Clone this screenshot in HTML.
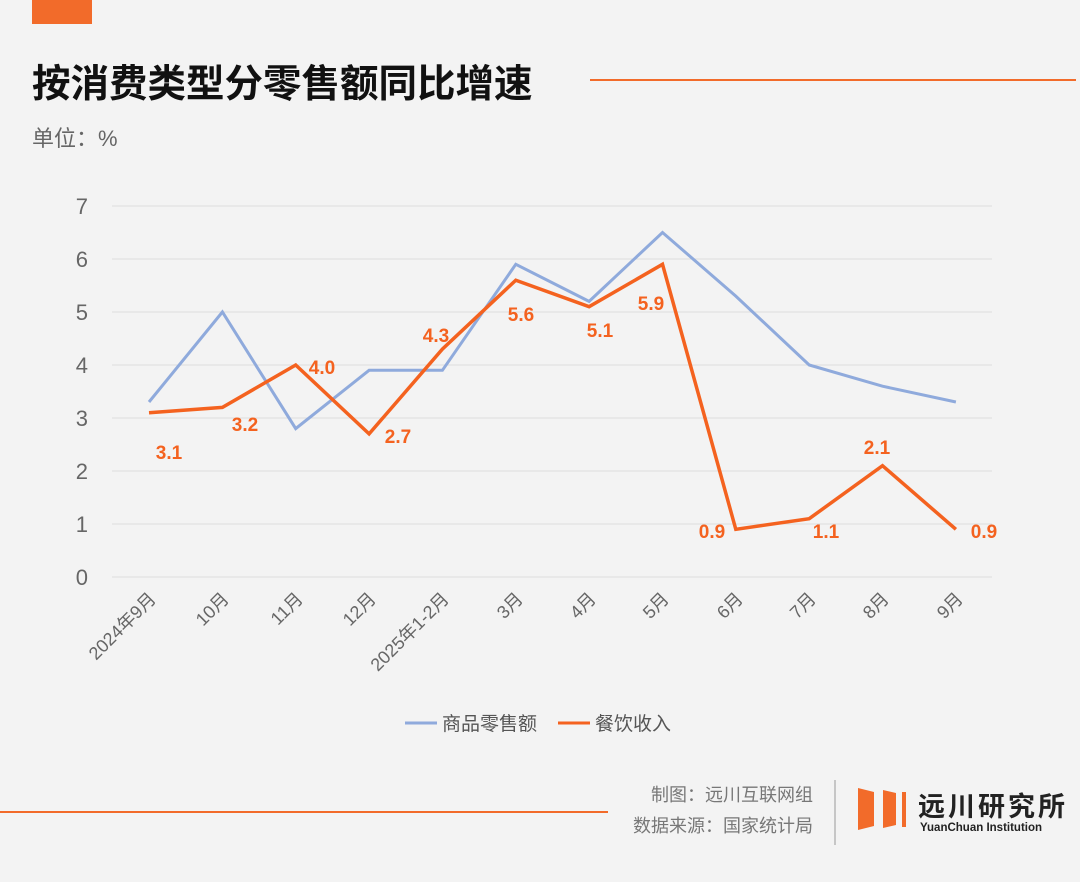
<!DOCTYPE html><html><head><meta charset="utf-8"><style>
body{margin:0;width:1080px;height:877px;background:#f3f3f3;font-family:"Liberation Sans","Noto Sans CJK SC",sans-serif;overflow:hidden}
</style></head><body>
<svg width="1080" height="877" viewBox="0 0 1080 877" xmlns="http://www.w3.org/2000/svg" font-family="Liberation Sans, Noto Sans CJK SC, sans-serif">
<rect width="1080" height="877" fill="#f3f3f3"/>
<rect x="32" y="0" width="60" height="24" fill="#f26b2a"/>
<text x="32" y="97" font-size="38.5" font-weight="bold" fill="#111">按消费类型分零售额同比增速</text>
<line x1="590" y1="80" x2="1076" y2="80" stroke="#f26b2a" stroke-width="2"/>
<text x="32" y="146" font-size="22" fill="#666">单位：%</text>
<g stroke="#dcdcdc" stroke-width="1">
<line x1="112" y1="206" x2="992" y2="206"/><line x1="112" y1="259" x2="992" y2="259"/><line x1="112" y1="312" x2="992" y2="312"/><line x1="112" y1="365" x2="992" y2="365"/><line x1="112" y1="418" x2="992" y2="418"/><line x1="112" y1="471" x2="992" y2="471"/><line x1="112" y1="524" x2="992" y2="524"/><line x1="112" y1="577" x2="992" y2="577"/>
</g>
<g font-size="22" fill="#666" text-anchor="end">
<text x="88" y="214">7</text><text x="88" y="267">6</text><text x="88" y="320">5</text><text x="88" y="373">4</text><text x="88" y="426">3</text><text x="88" y="479">2</text><text x="88" y="532">1</text><text x="88" y="585">0</text>
</g>
<g font-size="18" fill="#666" text-anchor="end">
<text transform="translate(157,600) rotate(-45)">2024年9月</text>
<text transform="translate(230,600) rotate(-45)">10月</text>
<text transform="translate(304,600) rotate(-45)">11月</text>
<text transform="translate(377,600) rotate(-45)">12月</text>
<text transform="translate(450,600) rotate(-45)">2025年1-2月</text>
<text transform="translate(524,600) rotate(-45)">3月</text>
<text transform="translate(597,600) rotate(-45)">4月</text>
<text transform="translate(670,600) rotate(-45)">5月</text>
<text transform="translate(744,600) rotate(-45)">6月</text>
<text transform="translate(817,600) rotate(-45)">7月</text>
<text transform="translate(890,600) rotate(-45)">8月</text>
<text transform="translate(964,600) rotate(-45)">9月</text>
</g>
<polyline fill="none" stroke="#8faadc" stroke-width="3" points="149,402 222.4,312 295.7,428.6 369.1,370.3 442.4,370.3 515.8,264.3 589.1,301.4 662.5,232.5 735.8,296.1 809.2,365 882.5,386.2 955.9,402"/>
<polyline fill="none" stroke="#f4621f" stroke-width="3.5" points="149,412.7 222.4,407.4 295.7,365 369.1,433.9 442.4,349.1 515.8,280.2 589.1,306.7 662.5,264.3 735.8,529.3 809.2,518.7 882.5,465.7 955.9,529.3"/>
<g font-size="19" font-weight="bold" fill="#f4621f" text-anchor="middle">
<text x="169" y="459">3.1</text><text x="245" y="431">3.2</text><text x="322" y="374">4.0</text><text x="398" y="443">2.7</text><text x="436" y="342">4.3</text><text x="521" y="321">5.6</text><text x="600" y="337">5.1</text><text x="651" y="310">5.9</text><text x="712" y="538">0.9</text><text x="826" y="538">1.1</text><text x="877" y="454">2.1</text><text x="984" y="538">0.9</text>
</g>
<line x1="405" y1="723" x2="437" y2="723" stroke="#8faadc" stroke-width="3"/>
<text x="442" y="730" font-size="19" fill="#555">商品零售额</text>
<line x1="558" y1="723" x2="590" y2="723" stroke="#f4621f" stroke-width="3"/>
<text x="595" y="730" font-size="19" fill="#555">餐饮收入</text>
<line x1="0" y1="812" x2="608" y2="812" stroke="#f26b2a" stroke-width="2"/>
<g font-size="18" fill="#777" text-anchor="end">
<text x="813" y="801">制图：远川互联网组</text>
<text x="813" y="832">数据来源：国家统计局</text>
</g>
<line x1="835" y1="780" x2="835" y2="845" stroke="#999" stroke-width="1"/>
<polygon points="858,788 874,792 874,826 858,830" fill="#f26b2a"/>
<polygon points="883,790 896,793 896,825 883,828" fill="#f26b2a"/>
<rect x="902" y="792" width="4" height="35" fill="#f26b2a"/>
<text x="918" y="816" font-size="27" font-weight="bold" fill="#222" letter-spacing="3">远川研究所</text>
<text x="920" y="831" font-size="11.5" font-weight="bold" fill="#222">YuanChuan Institution</text>
</svg>
</body></html>
